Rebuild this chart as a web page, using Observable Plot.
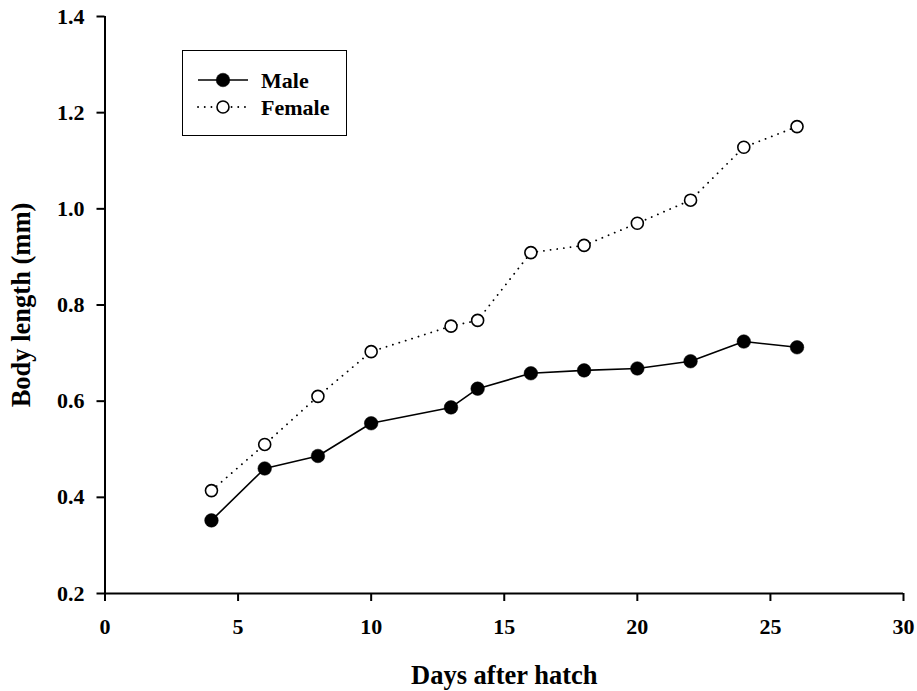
<!DOCTYPE html>
<html><head><meta charset="utf-8">
<script src="https://cdn.jsdelivr.net/npm/d3@7"></script>
<script src="https://cdn.jsdelivr.net/npm/@observablehq/plot@0.6"></script>
<style>
body{margin:0;background:#fff;}
#wrap{position:relative;width:917px;height:691px;}
#legend{position:absolute;left:182px;top:50px;width:163px;height:84px;border:1.6px solid #000;background:#fff;}
</style>
</head><body><div id="wrap"></div>
<script>
const days = [4, 6, 8, 10, 13, 14, 16, 18, 20, 22, 24, 26];
const male = [0.352, 0.460, 0.486, 0.554, 0.587, 0.626, 0.658, 0.664, 0.668, 0.683, 0.724, 0.712];
const female = [0.414, 0.510, 0.610, 0.703, 0.756, 0.768, 0.909, 0.924, 0.970, 1.018, 1.128, 1.171];
const xTicks = [0, 5, 10, 15, 20, 25, 30];
const yTicks = [0.2, 0.4, 0.6, 0.8, 1.0, 1.2, 1.4];
const seriesNames = ["Male", "Female"];
const xLabel = "Days after hatch";
const yLabel = "Body length (mm)";

const maleData = days.map((d, i) => ({day: d, len: male[i]}));
const femaleData = days.map((d, i) => ({day: d, len: female[i]}));
const font = "'Liberation Serif', 'Times New Roman', serif";
const fmt = d3.format(".1f");

const chart = Plot.plot({
  width: 917,
  height: 691,
  marginLeft: 104.5,
  marginRight: 14,
  marginTop: 16,
  marginBottom: 98,
  style: {fontFamily: font, fontWeight: "bold", fontSize: "22px", color: "#000", background: "#fff"},
  x: {domain: [0, 30]},
  y: {domain: [0.2, 1.4]},
  marks: [
    Plot.axisX({ticks: xTicks, tickSize: 8, strokeWidth: 2, text: null, label: null}),
    Plot.axisY({ticks: yTicks, tickSize: 8, strokeWidth: 2, text: null, label: null}),
    Plot.text(xTicks, {x: d => d, frameAnchor: "bottom", dy: 33, fontSize: 22, fontWeight: "bold", textAnchor: "middle", lineAnchor: "middle"}),
    Plot.text(yTicks, {y: d => d, text: d => fmt(d), frameAnchor: "left", dx: -20.5, fontSize: 22, fontWeight: "bold", textAnchor: "end", lineAnchor: "middle"}),
    Plot.ruleX([0], {stroke: "#000", strokeWidth: 2}),
    Plot.ruleY([0.2], {stroke: "#000", strokeWidth: 2}),
    Plot.line(femaleData, {x: "day", y: "len", stroke: "#000", strokeWidth: 1.8, strokeDasharray: "0.1,6.6", strokeLinecap: "round"}),
    Plot.line(maleData, {x: "day", y: "len", stroke: "#000", strokeWidth: 1.6}),
    Plot.dot(femaleData, {x: "day", y: "len", r: 6, fill: "#fff", stroke: "#000", strokeWidth: 1.6}),
    Plot.dot(maleData, {x: "day", y: "len", r: 6.8, fill: "#000", stroke: "#000", strokeWidth: 0.5}),
    Plot.text([xLabel], {frameAnchor: "bottom", dy: 82, fontSize: 26.5, fontWeight: "bold", textAnchor: "middle", lineAnchor: "middle"}),
    Plot.text([yLabel], {frameAnchor: "left", dx: -83, rotate: -90, fontSize: 26.5, fontWeight: "bold", textAnchor: "middle", lineAnchor: "middle"})
  ]
});

const wrap = document.getElementById("wrap");
wrap.appendChild(chart);

// Legend overlay
const legend = document.createElement("div");
legend.id = "legend";
const ns = "http://www.w3.org/2000/svg";
const lsvg = document.createElementNS(ns, "svg");
lsvg.setAttribute("width", 163);
lsvg.setAttribute("height", 84);
lsvg.style.fontFamily = font;
lsvg.style.fontWeight = "bold";
seriesNames.forEach((name, i) => {
  const y = 29 + i * 27;
  const line = document.createElementNS(ns, "line");
  line.setAttribute("x1", 15); line.setAttribute("x2", 65);
  line.setAttribute("y1", y); line.setAttribute("y2", y);
  line.setAttribute("stroke", "#000");
  if (i === 0) { line.setAttribute("stroke-width", 1.6); }
  else { line.setAttribute("stroke-width", 1.8); line.setAttribute("stroke-dasharray", "0.1,6.6"); line.setAttribute("stroke-linecap", "round"); }
  lsvg.appendChild(line);
  const c = document.createElementNS(ns, "circle");
  c.setAttribute("cx", 40); c.setAttribute("cy", y);
  c.setAttribute("r", i === 0 ? 6.8 : 6);
  c.setAttribute("fill", i === 0 ? "#000" : "#fff");
  c.setAttribute("stroke", "#000");
  c.setAttribute("stroke-width", i === 0 ? 0.5 : 1.6);
  lsvg.appendChild(c);
  const t = document.createElementNS(ns, "text");
  t.setAttribute("x", 78); t.setAttribute("y", y);
  t.setAttribute("dy", "0.35em");
  t.setAttribute("font-size", 22);
  t.textContent = name;
  lsvg.appendChild(t);
});
legend.appendChild(lsvg);
wrap.appendChild(legend);
</script>
</body></html>
